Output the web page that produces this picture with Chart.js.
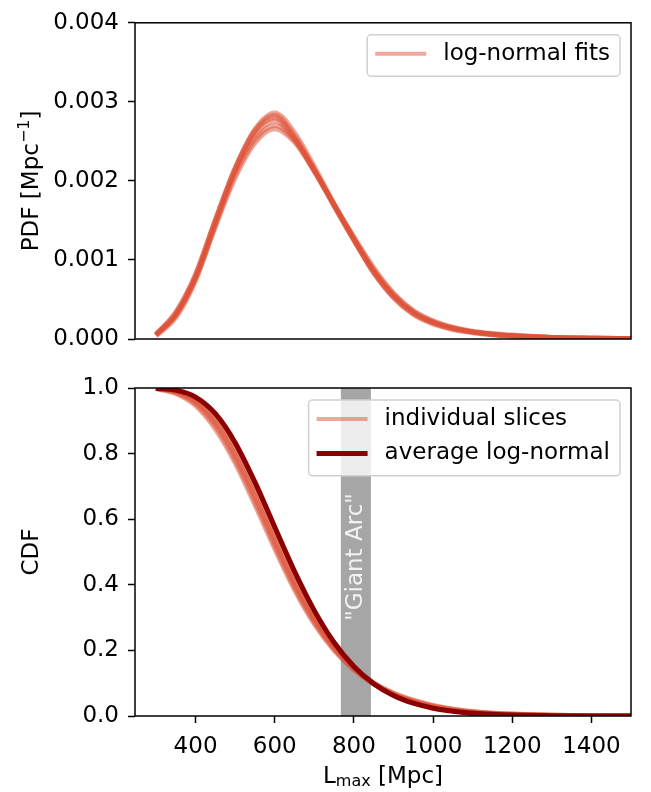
<!DOCTYPE html>
<html>
<head>
<meta charset="utf-8">
<script src="https://cdn.jsdelivr.net/npm/chart.js@4"></script>
<style>
  html, body { margin: 0; padding: 0; background: #fff; }
  #wrap { position: relative; width: 651px; height: 792px; }
  .panel { position: absolute; left: 0; width: 651px; }
  #top { top: 0; height: 365px; }
  #bottom { top: 365px; height: 427px; }
</style>
</head>
<body>
<div id="wrap">
  <div class="panel" id="top"><canvas id="pdfChart" width="651" height="365"></canvas></div>
  <div class="panel" id="bottom"><canvas id="cdfChart" width="651" height="427"></canvas></div>
</div>
<script>
// L_max grid [Mpc]
const lmax = [300, 350, 400, 450, 500, 550, 600, 650, 700, 750, 800, 850, 900, 950, 1000, 1050, 1100, 1150, 1200, 1300, 1400, 1500];

// top panel: log-normal fits, one per slice [Mpc^-1]
const pdfFit1 = [0.00004, 0.00027, 0.00074, 0.00145, 0.00214, 0.00265, 0.00286, 0.00261, 0.00218, 0.00171, 0.00126, 0.00084, 0.00052, 0.00031, 0.00019, 0.00012, 0.00008, 0.000055, 0.000037, 0.000017, 0.000008, 0.000004];
const pdfFit2 = [0.00005, 0.00030, 0.00078, 0.00149, 0.00216, 0.00264, 0.00283, 0.00257, 0.00215, 0.00169, 0.00125, 0.00084, 0.00053, 0.00032, 0.00020, 0.00013, 0.000085, 0.000058, 0.00004, 0.000019, 0.000009, 0.000004];
const pdfFit3 = [0.00006, 0.00033, 0.00081, 0.00151, 0.00216, 0.00262, 0.00280, 0.00254, 0.00213, 0.00168, 0.00125, 0.00085, 0.00054, 0.00033, 0.00021, 0.00013, 0.00009, 0.00006, 0.00004, 0.00002, 0.00001, 0.000005];
const pdfFit4 = [0.00006, 0.00034, 0.00082, 0.00150, 0.00213, 0.00257, 0.00276, 0.00253, 0.00213, 0.00169, 0.00126, 0.00086, 0.00055, 0.00034, 0.00021, 0.00014, 0.00009, 0.00006, 0.00004, 0.00002, 0.00001, 0.000005];
const pdfFit5 = [0.00005, 0.00031, 0.00078, 0.00145, 0.00208, 0.00252, 0.00270, 0.00251, 0.00213, 0.00170, 0.00128, 0.00088, 0.00057, 0.00035, 0.00022, 0.00014, 0.00009, 0.00006, 0.00004, 0.00002, 0.00001, 0.000005];
const pdfFit6 = [0.00005, 0.00030, 0.00076, 0.00142, 0.00204, 0.00248, 0.00266, 0.00249, 0.00212, 0.00170, 0.00129, 0.00090, 0.00058, 0.00036, 0.00023, 0.00015, 0.00010, 0.00007, 0.00005, 0.00002, 0.00001, 0.000005];

// bottom panel: per-slice curves and the averaged log-normal
const cdfSlice1 = [0.999, 0.990, 0.962, 0.900, 0.805, 0.680, 0.543, 0.412, 0.300, 0.212, 0.146, 0.098, 0.064, 0.041, 0.026, 0.016, 0.010, 0.006, 0.004, 0.0015, 0.0006, 0.0002];
const cdfSlice2 = [0.999, 0.986, 0.952, 0.884, 0.782, 0.655, 0.520, 0.392, 0.286, 0.204, 0.143, 0.099, 0.067, 0.045, 0.029, 0.019, 0.012, 0.008, 0.005, 0.002, 0.0008, 0.0003];
const cdfSlice3 = [0.999, 0.988, 0.957, 0.893, 0.794, 0.668, 0.531, 0.401, 0.291, 0.206, 0.145, 0.101, 0.070, 0.048, 0.032, 0.021, 0.014, 0.009, 0.006, 0.0025, 0.001, 0.0004];
const cdfSlice4 = [0.999, 0.992, 0.967, 0.910, 0.818, 0.695, 0.557, 0.424, 0.308, 0.216, 0.148, 0.099, 0.065, 0.042, 0.027, 0.017, 0.010, 0.006, 0.0035, 0.0013, 0.0005, 0.0002];
const cdfSlice5 = [0.998, 0.983, 0.946, 0.875, 0.772, 0.644, 0.510, 0.385, 0.281, 0.200, 0.141, 0.098, 0.068, 0.047, 0.031, 0.020, 0.013, 0.008, 0.005, 0.002, 0.0008, 0.0003];
const cdfAverage = [0.9992, 0.9935, 0.9724, 0.9216, 0.8334, 0.7130, 0.5761, 0.4408, 0.3213, 0.2242, 0.1510, 0.0985, 0.0625, 0.0389, 0.0237, 0.0143, 0.0085, 0.0050, 0.0029, 0.0010, 0.0003, 0.0001];

const xTicks = [400, 600, 800, 1000, 1200, 1400];
const pdfTicks = [0, 0.001, 0.002, 0.003, 0.004];
const cdfTicks = [0, 0.2, 0.4, 0.6, 0.8, 1.0];
const giantArc = [767, 843];
const giantArcLabel = '"Giant Arc"';

const FONT = '"DejaVu Sans"';
const fitColor = 'rgba(221, 81, 55, 0.5)';
const avgColor = '#8b0000';

Chart.defaults.font.family = FONT;
Chart.defaults.font.size = 23;
Chart.defaults.color = '#000';

function toPoints(ys) {
  return lmax.map((x, i) => ({ x: x, y: ys[i] }));
}

function lineSet(ys, color, width, order) {
  return {
    data: toPoints(ys),
    borderColor: color,
    borderWidth: width,
    pointRadius: 0,
    fill: false,
    cubicInterpolationMode: 'monotone',
    clip: 0,
    order: order
  };
}

function xAxis(showLabels) {
  return {
    type: 'linear',
    min: 247,
    max: 1500,
    afterBuildTicks: s => { s.ticks = xTicks.map(v => ({ value: v })); },
    ticks: { display: showLabels, padding: 10, autoSkip: false, maxRotation: 0, callback: v => String(v) },
    grid: { display: showLabels, drawOnChartArea: false, drawTicks: true, tickLength: 7, tickWidth: 1.5, tickColor: '#000' },
    border: { display: false },
    afterFit: s => { s.height = showLabels ? 76 : 26; }
  };
}

function yAxis(min, max, ticks, digits, title, titlePad) {
  return {
    type: 'linear',
    min: min,
    max: max,
    afterBuildTicks: s => { s.ticks = ticks.map(v => ({ value: v })); },
    ticks: { padding: 9, autoSkip: false, callback: v => v.toFixed(digits) },
    grid: { drawOnChartArea: false, drawTicks: true, tickLength: 7, tickWidth: 1.5, tickColor: '#000' },
    border: { display: false },
    title: { display: !!title, text: title, padding: { top: titlePad, bottom: 0 } },
    afterFit: s => { s.width = 135; }
  };
}

const framePlugin = {
  id: 'frame',
  afterDatasetsDraw(chart) {
    const { ctx, chartArea: a } = chart;
    ctx.save();
    ctx.strokeStyle = '#000';
    ctx.lineWidth = 1.5;
    ctx.strokeRect(a.left, a.top, a.right - a.left, a.bottom - a.top);
    ctx.restore();
  }
};

// matplotlib-style legend box in the upper right of the axes
const legendPlugin = {
  id: 'boxLegend',
  afterDraw(chart, args, opts) {
    const { ctx, chartArea: a } = chart;
    ctx.save();
    ctx.font = '23px ' + FONT;
    const textW = Math.max(...opts.items.map(it => ctx.measureText(it.label).width));
    const rowH = 34.4, padX = 8, lineLen = 51, gap = 17, padR = 10;
    const w = padX + lineLen + gap + textW + padR;
    const h = opts.items.length * rowH + 7;
    const x0 = a.right - 11 - w;
    const y0 = a.top + 12;
    ctx.beginPath();
    ctx.roundRect(x0, y0, w, h, 4);
    ctx.fillStyle = 'rgba(255,255,255,0.8)';
    ctx.fill();
    ctx.strokeStyle = '#d0d0d0';
    ctx.lineWidth = 1.5;
    ctx.stroke();
    opts.items.forEach((it, i) => {
      const y = y0 + 19 + i * rowH;
      ctx.beginPath();
      ctx.moveTo(x0 + padX, y);
      ctx.lineTo(x0 + padX + lineLen, y);
      ctx.strokeStyle = it.color;
      ctx.lineWidth = it.width;
      ctx.stroke();
      ctx.fillStyle = '#000';
      ctx.textAlign = 'left';
      ctx.textBaseline = 'middle';
      ctx.fillText(it.label, x0 + padX + lineLen + gap, y);
    });
    ctx.restore();
  }
};

const bandPlugin = {
  id: 'giantArc',
  beforeDatasetsDraw(chart) {
    const { ctx, chartArea: a, scales: { x } } = chart;
    const x1 = x.getPixelForValue(giantArc[0]);
    const x2 = x.getPixelForValue(giantArc[1]);
    ctx.save();
    ctx.fillStyle = '#a6a6a6';
    ctx.fillRect(x1, a.top, x2 - x1, a.bottom - a.top);
    ctx.translate((x1 + x2) / 2, a.top + 169);
    ctx.rotate(-Math.PI / 2);
    ctx.font = '23px ' + FONT;
    ctx.fillStyle = '#f2f2f2';
    ctx.textAlign = 'center';
    ctx.textBaseline = 'middle';
    ctx.fillText(giantArcLabel, 0, 0);
    ctx.restore();
  }
};

// draws a run of [text, font, raise] pieces centred on (cx, cy)
function drawPieces(ctx, pieces, cx, cy, rotate) {
  ctx.save();
  ctx.translate(cx, cy);
  if (rotate) ctx.rotate(-Math.PI / 2);
  ctx.fillStyle = '#000';
  ctx.textBaseline = 'alphabetic';
  ctx.textAlign = 'left';
  const widths = pieces.map(p => { ctx.font = p[1]; return ctx.measureText(p[0]).width; });
  let x = -widths.reduce((s, w) => s + w, 0) / 2;
  pieces.forEach((p, i) => {
    ctx.font = p[1];
    ctx.fillText(p[0], x, p[2]);
    x += widths[i];
  });
  ctx.restore();
}

const big = '23px ' + FONT, small = '16px ' + FONT;

// y label with superscript: PDF [Mpc^-1]
const yTitlePlugin = {
  id: 'yTitle',
  afterDraw(chart) {
    const a = chart.chartArea;
    drawPieces(chart.ctx, [['PDF [Mpc', big, 0], ['\u22121', small, -9], [']', big, 0]],
      37.5, (a.top + a.bottom) / 2, true);
  }
};

// x label with subscript: L_max [Mpc]
const xTitlePlugin = {
  id: 'xTitle',
  afterDraw(chart) {
    const a = chart.chartArea;
    drawPieces(chart.ctx, [['L', big, 0], ['max', small, 3], [' [Mpc]', big, 0]],
      (a.left + a.right) / 2, a.bottom + 67, false);
  }
};

const pdfFits = [pdfFit1, pdfFit2, pdfFit3, pdfFit4, pdfFit5, pdfFit6];
const cdfSlices = [cdfSlice1, cdfSlice2, cdfSlice3, cdfSlice4, cdfSlice5];

new Chart(document.getElementById('pdfChart'), {
  type: 'line',
  data: { datasets: pdfFits.map(ys => lineSet(ys, fitColor, 5, 1)) },
  options: {
    responsive: false,
    animation: false,
    layout: { padding: { top: 11, right: 20, left: 0, bottom: 0 } },
    scales: {
      x: xAxis(false),
      y: yAxis(0, 0.004, pdfTicks, 3, '', 16)
    },
    plugins: {
      legend: { display: false },
      tooltip: { enabled: false },
      boxLegend: { items: [{ label: 'log-normal fits', color: fitColor, width: 4 }] }
    }
  },
  plugins: [framePlugin, legendPlugin, yTitlePlugin]
});

new Chart(document.getElementById('cdfChart'), {
  type: 'line',
  data: {
    datasets: [lineSet(cdfAverage, avgColor, 5, 0)].concat(cdfSlices.map(ys => lineSet(ys, fitColor, 5, 1)))
  },
  options: {
    responsive: false,
    animation: false,
    layout: { padding: { top: 23, right: 20, left: 0, bottom: 0 } },
    scales: {
      x: xAxis(true),
      y: yAxis(0, 1, cdfTicks, 1, 'CDF', 18)
    },
    plugins: {
      legend: { display: false },
      tooltip: { enabled: false },
      boxLegend: {
        items: [
          { label: 'individual slices', color: fitColor, width: 4 },
          { label: 'average log-normal', color: avgColor, width: 5 }
        ]
      }
    }
  },
  plugins: [bandPlugin, framePlugin, legendPlugin, xTitlePlugin]
});
</script>
</body>
</html>
